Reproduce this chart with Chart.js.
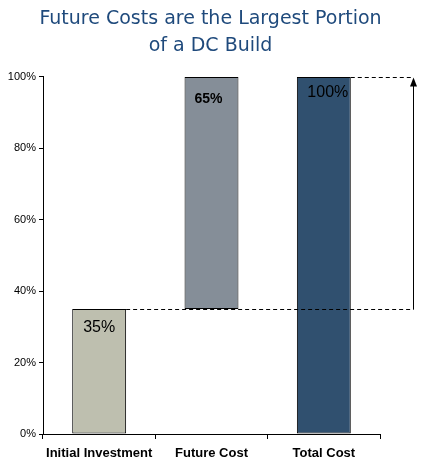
<!DOCTYPE html>
<html>
<head>
<meta charset="utf-8">
<script src="https://cdn.jsdelivr.net/npm/chart.js@4"></script>
<style>
  html, body { margin: 0; padding: 0; background: #fff; }
  #wrap { width: 421px; height: 465px; }
</style>
</head>
<body>
<div id="wrap"><canvas id="chart" width="421" height="465"></canvas></div>
<script>
// Dados do gráfico (cascata)
const categorias = ['Initial Investment', 'Future Cost', 'Total Cost'];
const inicio = [0, 35, 0];
const fim = [35, 100, 100];
const rotulos = ['35%', '65%', '100%'];
const cores = ['#BEBFAF', '#858E98', '#30506F'];
const ticksY = [0, 20, 40, 60, 80, 100];

// Rótulos dentro das barras: deslocamento em px e fonte
const rotuloFonte = ['16px "Liberation Sans", Arial, sans-serif',
                     'bold 14px "Liberation Sans", Arial, sans-serif',
                     '16px "Liberation Sans", Arial, sans-serif'];
const rotuloDy = [19, 22, 16];
const rotuloDx = [0, -3, 4];

// Linhas tracejadas, seta e rótulos dentro das barras
const extras = {
    id: 'extras',
    afterDatasetsDraw(chart) {
        const { ctx, scales: { y } } = chart;
        const meta = chart.getDatasetMeta(0);
        ctx.save();

        // rótulos
        ctx.fillStyle = '#000';
        ctx.textAlign = 'center';
        ctx.textBaseline = 'middle';
        meta.data.forEach((bar, i) => {
            ctx.font = rotuloFonte[i];
            ctx.fillText(rotulos[i], bar.x + rotuloDx[i], y.getPixelForValue(fim[i]) + rotuloDy[i]);
        });

        // linhas tracejadas
        const setaX = Math.round(meta.data[2].x + 89) + 0.5;
        ctx.strokeStyle = '#000';
        ctx.lineWidth = 1;
        ctx.setLineDash([4, 3]);
        const y35 = Math.round(y.getPixelForValue(fim[0])) + 0.5;
        ctx.beginPath();
        ctx.moveTo(meta.data[0].x + meta.data[0].width / 2, y35);
        ctx.lineTo(setaX, y35);
        const y100 = Math.round(y.getPixelForValue(fim[2])) + 0.5;
        ctx.moveTo(meta.data[2].x + meta.data[2].width / 2, y100);
        ctx.lineTo(setaX, y100);
        ctx.stroke();

        // seta
        ctx.setLineDash([]);
        ctx.beginPath();
        ctx.moveTo(setaX, y35);
        ctx.lineTo(setaX, y100 + 6);
        ctx.stroke();
        ctx.beginPath();
        ctx.moveTo(setaX, y100);
        ctx.lineTo(setaX - 3.5, y100 + 9);
        ctx.lineTo(setaX + 3.5, y100 + 9);
        ctx.closePath();
        ctx.fill();
        ctx.restore();
    }
};

const ctx = document.getElementById('chart').getContext('2d');
new Chart(ctx, {
    type: 'bar',
    data: {
        labels: categorias,
        datasets: [{
            data: categorias.map((c, i) => [inicio[i], fim[i]]),
            backgroundColor: cores,
            borderColor: '#000',
            borderWidth: 1,
            borderSkipped: false,
            categoryPercentage: 1,
            barPercentage: 0.48
        }]
    },
    options: {
        responsive: false,
        animation: false,
        layout: { padding: 0 },
        plugins: {
            legend: { display: false },
            tooltip: { enabled: false },
            title: {
                display: true,
                text: ['Future Costs are the Largest Portion', 'of a DC Build'],
                color: '#1F4A7C',
                font: { family: '"DejaVu Sans", Verdana, sans-serif', size: 19, weight: 'normal', lineHeight: 1.42 },
                padding: { top: 6, bottom: 17 }
            }
        },
        scales: {
            x: {
                grid: { display: true, offset: true, drawOnChartArea: false, tickLength: 5, color: '#000' },
                border: { color: '#000' },
                ticks: {
                    color: '#000',
                    padding: 7,
                    font: { family: '"Liberation Sans", Arial, sans-serif', size: 13, weight: 'bold' }
                },
                afterFit: s => { s.height = 31; }
            },
            y: {
                min: 0,
                max: 100,
                afterBuildTicks: s => { s.ticks = ticksY.map(v => ({ value: v })); },
                grid: { display: true, drawOnChartArea: false, tickLength: 4, color: '#000' },
                border: { color: '#000' },
                ticks: {
                    color: '#000',
                    padding: 3,
                    callback: v => v + '%',
                    font: { family: '"Liberation Sans", Arial, sans-serif', size: 11 }
                },
                afterFit: s => { s.width = 43; }
            },
            // eixo vazio à direita só para reservar espaço da seta
            espaco: {
                position: 'right',
                display: true,
                grid: { display: false },
                border: { display: false },
                ticks: { display: false },
                afterFit: s => { s.width = 41; }
            }
        }
    },
    plugins: [extras]
});
</script>
</body>
</html>
